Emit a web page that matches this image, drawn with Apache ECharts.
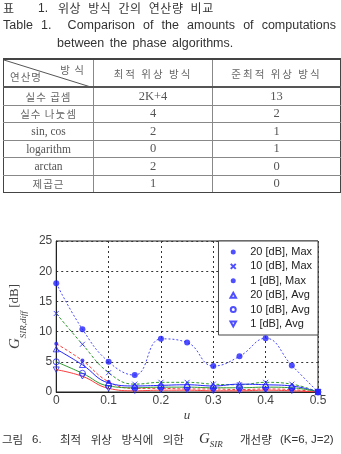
<!DOCTYPE html>
<html>
<head>
<meta charset="utf-8">
<script src="https://cdn.jsdelivr.net/npm/echarts@6/dist/echarts.min.js"></script>
<style>
body { margin: 0; background: #fff; }
#page { position: relative; width: 341px; height: 454px; overflow: hidden; }
#chart { position: absolute; left: 0; top: 0; width: 341px; height: 454px; }
.t { position: absolute; white-space: nowrap; color: #333; line-height: 1; }
.kr { font-family: "Noto Sans CJK KR", sans-serif; }
.en { font-family: "Liberation Sans", Arial, sans-serif; }
#tbl { position: absolute; left: 3px; top: 58px; width: 337px; border-collapse: collapse; table-layout: fixed; }
#tbl td { border: 1px solid #888; text-align: center; padding: 0; height: 16.5px; color: #555; font-size: 11px; }
#tbl tr.hd td { height: 26px; border-top: 2px solid #444; border-bottom: 2px solid #555; }
#tbl td.kr { font-family: "Noto Sans CJK KR", sans-serif; font-size: 10.5px; color: #666; letter-spacing: 1px; }
#tbl td.num { font-family: "Liberation Serif", serif; font-size: 12.5px; }
#tbl tr.last td { border-bottom: 1.5px solid #444; }
#tbl td:first-child { border-left: 1.5px solid #444; }
#tbl td:last-child { border-right: 1.5px solid #444; }
</style>
</head>
<body>
<div id="page">
  <div id="chart"></div>

  <div class="t kr" style="left:3px; top:2px; font-size:12px;">표</div>
  <div class="t en" style="left:38px; top:2px; font-size:12px;">1.</div>
  <div class="t kr" style="left:58px; top:2px; font-size:12px; letter-spacing:0.5px; word-spacing:4px;">위상 방식 간의 연산량 비교</div>

  <div class="t en" style="left:3px; top:19px; width:333px; font-size:12.5px; text-align:justify; text-align-last:justify; white-space:normal;">Table 1. &nbsp;Comparison of the amounts of computations</div>
  <div class="t en" style="left:57px; top:37px; font-size:12.5px; word-spacing:2px;">between the phase algorithms.</div>

  <table id="tbl">
    <colgroup><col style="width:90px"><col style="width:119px"><col style="width:128px"></colgroup>
    <tr class="hd">
      <td class="kr" style="position:relative;">
        <svg width="90" height="28" style="position:absolute; left:0; top:0;"><line x1="0" y1="0" x2="90" y2="28" stroke="#555" stroke-width="1"/></svg>
        <span style="position:absolute; right:8px; top:2px;">방 식</span>
        <span style="position:absolute; left:6px; bottom:2px;">연산명</span>
      </td>
      <td class="kr" style="letter-spacing:2px;">최적 위상 방식</td>
      <td class="kr" style="letter-spacing:2px;">준최적 위상 방식</td>
    </tr>
    <tr><td class="kr">실수 곱셈</td><td class="num">2K+4</td><td class="num">13</td></tr>
    <tr><td class="kr">실수 나눗셈</td><td class="num">4</td><td class="num">2</td></tr>
    <tr><td class="num" style="font-size:11.5px;">sin, cos</td><td class="num">2</td><td class="num">1</td></tr>
    <tr><td class="num" style="font-size:11.5px;">logarithm</td><td class="num">0</td><td class="num">1</td></tr>
    <tr><td class="num" style="font-size:11.5px;">arctan</td><td class="num">2</td><td class="num">0</td></tr>
    <tr class="last"><td class="kr">제곱근</td><td class="num">1</td><td class="num">0</td></tr>
  </table>

  <div class="t kr" style="left:2px; top:434px; font-size:11.5px;">그림</div>
  <div class="t en" style="left:32px; top:434px; font-size:11.5px;">6.</div>
  <div class="t kr" style="left:60px; top:434px; font-size:11.5px; word-spacing:7px;">최적 위상 방식에 의한</div>
  <div class="t" style="left:199px; top:431px; font-family:'Liberation Serif',serif; font-style:italic; font-size:15px;">G<sub style="font-size:9px;">SIR</sub></div>
  <div class="t kr" style="left:240px; top:434px; font-size:11.5px;">개선량</div>
  <div class="t en" style="left:280px; top:434px; font-size:11.5px;">(K=6, J=2)</div>
</div>

<script>
// u 값 (가로축)
var uValues = [0, 0.05, 0.1, 0.15, 0.2, 0.25, 0.3, 0.35, 0.4, 0.45, 0.5];

// 그림에서 읽은 값 [dB]
var max20 = [18, 10.4, 5.0, 2.8, 8.8, 8.2, 4.3, 5.9, 8.9, 4.4, 0];
var max10 = [13, 7.9, 3.2, 1.3, 1.6, 1.6, 1.3, 1.2, 1.6, 1.3, 0];
var max1 = [8, 5.2, 1.7, 0.6, 0.6, 0.5, 0.5, 0.4, 0.5, 0.4, 0];
var avg20 = [7.1, 4.5, 1.5, 1.0, 1.1, 1.2, 1.0, 1.3, 1.2, 1.0, 0];
var avg10 = [5.0, 3.1, 1.0, 0.7, 0.8, 0.8, 0.7, 0.7, 0.8, 0.7, 0];
var avg1 = [3.7, 2.6, 0.6, 0.2, 0.3, 0.3, 0.2, 0.2, 0.3, 0.2, 0];

var seriesNames = ['20 [dB], Max', '10 [dB], Max', '1 [dB], Max', '20 [dB], Avg', '10 [dB], Avg', '1 [dB], Avg'];

var BLUE = '#2323ff', LBLUE = '#4a4aff', GREEN = '#2f9a2f', RED = '#ff3a3a';

function pairs(arr) {
    return arr.map(function (v, i) { return [uValues[i], v]; });
}

function curve(arr, color, dash) {
    return {
        type: 'line',
        data: pairs(arr),
        smooth: 0.45,
        showSymbol: false,
        silent: true,
        z: 2,
        lineStyle: { color: color, width: 1, type: dash }
    };
}

function marks(name, arr, symbol, size, filled) {
    return {
        name: name,
        type: 'scatter',
        data: pairs(arr),
        symbol: symbol,
        symbolSize: size,
        symbolKeepAspect: true,
        z: 4,
        itemStyle: filled ? { color: BLUE } : { color: 'rgba(0,0,0,0)', borderColor: BLUE, borderWidth: 1 }
    };
}

var chart = echarts.init(document.getElementById('chart'));

var option = {
    animation: false,
    backgroundColor: 'transparent',
    grid: { left: 48, right: 23, top: 241, bottom: 62, show: true, borderColor: '#222', borderWidth: 1 },
    legend: {
        data: seriesNames,
        orient: 'vertical',
        right: 23,
        top: 241,
        itemWidth: 24,
        itemHeight: 5,
        itemGap: 0.4,
        padding: [4, 6, 4, 11],
        selectedMode: false,
        backgroundColor: '#fff',
        borderColor: '#444',
        borderWidth: 1,
        textStyle: { fontFamily: 'Liberation Sans', fontSize: 11, color: '#222', lineHeight: 14 }
    },
    xAxis: {
        type: 'value',
        min: 0,
        max: 0.5,
        interval: 0.1,
        name: 'u',
        nameLocation: 'middle',
        nameGap: 17,
        nameTextStyle: { fontFamily: 'Liberation Serif', fontStyle: 'italic', fontSize: 13, color: '#444' },
        axisLine: { show: true, lineStyle: { color: '#222' } },
        axisTick: { show: false },
        axisLabel: { margin: 3, fontFamily: 'Liberation Sans', fontSize: 12, color: '#444' },
        splitLine: { show: true, lineStyle: { color: '#333', type: [2, 3], width: 1 } }
    },
    yAxis: {
        type: 'value',
        min: 0,
        max: 25,
        interval: 5,
        name: '{g|G}{s|SIR,diff}{d| [dB]}',
        nameLocation: 'middle',
        nameGap: 22,
        nameTextStyle: {
            color: '#444',
            rich: {
                g: { fontFamily: 'Liberation Serif', fontStyle: 'italic', fontSize: 15, lineHeight: 20, verticalAlign: 'top' },
                s: { fontFamily: 'Liberation Serif', fontStyle: 'italic', fontSize: 9, lineHeight: 20, verticalAlign: 'bottom' },
                d: { fontFamily: 'Liberation Serif', fontSize: 13, lineHeight: 20, verticalAlign: 'top' }
            }
        },
        axisLine: { show: true, lineStyle: { color: '#222' } },
        axisTick: { show: false },
        axisLabel: { margin: 4, fontFamily: 'Liberation Sans', fontSize: 12, color: '#444' },
        splitLine: { show: true, lineStyle: { color: '#333', type: [2, 3], width: 1 } }
    },
    series: [
        curve(max20, LBLUE, [2, 2]),
        curve(max10, GREEN, [3, 2]),
        curve(max1, RED, [3, 2]),
        curve(avg20, BLUE, 'solid'),
        curve(avg10, GREEN, 'solid'),
        curve(avg1, RED, 'solid'),
        marks(seriesNames[0], max20, 'circle', 6, true),
        marks(seriesNames[1], max10, 'path://M0,0L10,10M10,0L0,10', 5, false),
        marks(seriesNames[2], max1, 'circle', 4, true),
        marks(seriesNames[3], avg20, 'path://M5,0L10,9L0,9Z', 6, false),
        marks(seriesNames[4], avg10, 'circle', 6, false),
        marks(seriesNames[5], avg1, 'path://M0,0L10,0L5,9Z', 6, false)
    ]
};

chart.setOption(option);
</script>
</body>
</html>
